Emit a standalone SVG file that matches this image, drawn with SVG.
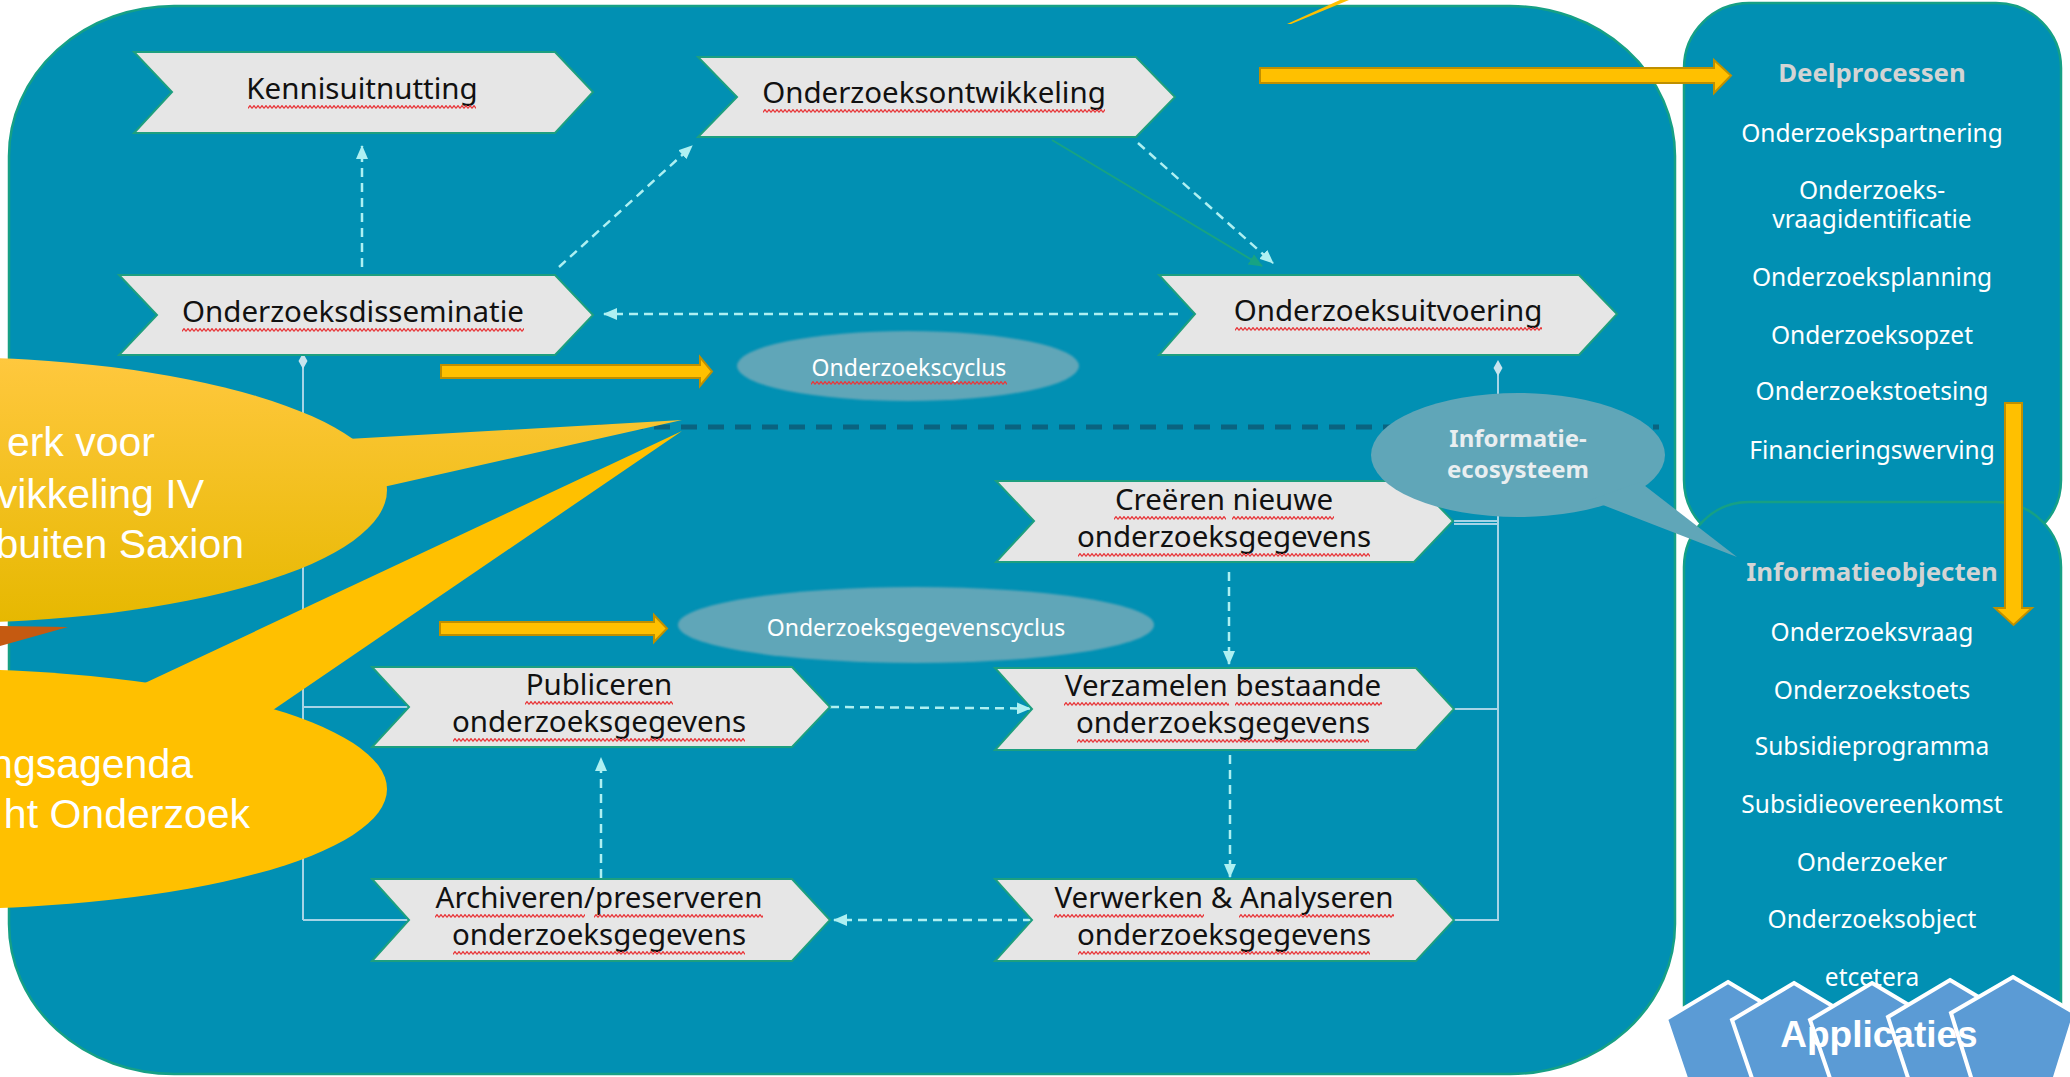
<svg xmlns="http://www.w3.org/2000/svg" width="2070" height="1077" viewBox="0 0 2070 1077">
<style>
.lbl{font-family:"Noto Sans","Open Sans",sans-serif;font-size:29.5px;fill:#111;text-anchor:middle}
.sqg{fill:url(#wave)}
.chev{fill:#e6e6e6;stroke:#1d9f7f;stroke-width:2}
.cyc{font-family:"Noto Sans","Open Sans",sans-serif;font-size:23px;fill:#fff;text-anchor:middle}
.item{font-family:"Noto Sans","Open Sans",sans-serif;font-size:24.5px;fill:#fff;text-anchor:middle}
.head{font-family:"Noto Sans","Open Sans",sans-serif;font-size:25.8px;font-weight:bold;fill:#d4d4d4;text-anchor:middle}
.big{font-family:"Liberation Sans",Arial,sans-serif;font-size:41px;fill:#fff;text-anchor:end}
.dash{fill:none;stroke:#aef0f2;stroke-width:2.5;stroke-dasharray:9 6;marker-end:url(#ah)}
.solid{fill:none;stroke:#a6d4e6;stroke-width:2}
.yarrow{fill:#ffc000;stroke:#bf8f00;stroke-width:2}
.pent{fill:#5b9bd5;stroke:#fff;stroke-width:4;stroke-linejoin:miter}
.panel{fill:#0190b3;stroke:#16a085;stroke-width:2.5}
</style>
<defs>
<pattern id="wave" patternUnits="userSpaceOnUse" width="4" height="4">
<path d="M0,3.4 L2,0.6 L4,3.4" fill="none" stroke="#e8373a" stroke-width="1.2"/>
</pattern>
<marker id="ah" viewBox="0 0 14 12" refX="13" refY="6" markerWidth="14" markerHeight="12" markerUnits="userSpaceOnUse" orient="auto">
<path d="M0,0 L14,6 L0,12 z" fill="#aef0f2"/>
</marker>
<marker id="gh" viewBox="0 0 14 12" refX="13" refY="6" markerWidth="14" markerHeight="12" markerUnits="userSpaceOnUse" orient="auto">
<path d="M0,0 L14,6 L0,12 z" fill="#17a383"/>
</marker>
<linearGradient id="yg" gradientUnits="userSpaceOnUse" x1="0" y1="358" x2="0" y2="625">
<stop offset="0" stop-color="#ffc83e"/>
<stop offset="1" stop-color="#e6b800"/>
</linearGradient>
<filter id="soft" x="-5%" y="-10%" width="110%" height="120%"><feGaussianBlur stdDeviation="1.2"/></filter>
</defs>

<rect width="2070" height="1077" fill="#fff"/>

<g id="main-area">
<rect x="9" y="6" width="1666" height="1068" rx="165" ry="150" fill="#0190b3" stroke="#16a085" stroke-width="2.5"/>
</g>

<g id="panel-deelprocessen">
<rect class="panel" x="1684" y="3" width="377" height="542" rx="65" ry="65"/>
</g>
<g id="panel-informatieobjecten">
<rect class="panel" x="1684" y="502" width="377" height="568" rx="65" ry="65"/>
</g>

<g id="panel-deelprocessen-text">
<text class="head" x="1872" y="82">Deelprocessen</text>
<text class="item" x="1872" y="141.5">Onderzoekspartnering</text>
<text class="item" x="1872" y="199">Onderzoeks-</text>
<text class="item" x="1872" y="228">vraagidentificatie</text>
<text class="item" x="1872" y="285.5">Onderzoeksplanning</text>
<text class="item" x="1872" y="343.5">Onderzoeksopzet</text>
<text class="item" x="1872" y="399.5">Onderzoekstoetsing</text>
<text class="item" x="1872" y="458.5">Financieringswerving</text>
</g>
<g id="panel-informatieobjecten-text">
<text class="head" x="1872" y="581">Informatieobjecten</text>
<text class="item" x="1872" y="640.5">Onderzoeksvraag</text>
<text class="item" x="1872" y="698.5">Onderzoekstoets</text>
<text class="item" x="1872" y="755">Subsidieprogramma</text>
<text class="item" x="1872" y="812.5">Subsidieovereenkomst</text>
<text class="item" x="1872" y="870.5">Onderzoeker</text>
<text class="item" x="1872" y="927.5">Onderzoeksobject</text>
<text class="item" x="1872" y="986">etcetera</text>
</g>

<g id="connectors">
<path class="solid" d="M303,361 V920 M303,707 H409 M303,920 H409"/>
<polygon points="303,353 307.5,361 303,369 298.5,361" fill="#c8e4ee"/>
<path class="solid" d="M1498,368 V921 M1454,521 H1498 M1454,709 H1498 M1454,920 H1498"/>
<path d="M1454,524 H1498" stroke="#a6d4e6" stroke-width="2" fill="none"/>
<polygon points="1498,360 1502.5,368 1498,376 1493.5,368" fill="#c8e4ee"/>
<path class="dash" d="M362,267 L362,146"/>
<path class="dash" d="M559,267 L692,146"/>
<path d="M1052,140 L1262,266" fill="none" stroke="#17a383" stroke-width="2" marker-end="url(#gh)"/>
<path class="dash" d="M1138,143 L1273,263"/>
<path class="dash" d="M1178,314 L604,314"/>
<path class="dash" d="M830,707 L1030,708.5"/>
<path class="dash" d="M1229,572 V664"/>
<path class="dash" d="M1230,755 V877"/>
<path class="dash" d="M1032,920 L834,920"/>
<path class="dash" d="M601,878 V758"/>
<path d="M600,427 H1659" fill="none" stroke="#0a6380" stroke-width="5" stroke-dasharray="16 11"/>
</g>

<g id="node-kennisuitnutting">
<polygon class="chev" points="134,52 555,52 593,92 555,133 134,133 172,92"/>
<text class="lbl" x="362" y="99">Kennisuitnutting</text>
<rect class="sqg" width="228" height="4" transform="translate(248,105)"/>
</g>
<g id="node-onderzoeksontwikkeling">
<polygon class="chev" points="698,57 1136,57 1175,97 1136,137 698,137 737,97"/>
<text class="lbl" x="934" y="103">Onderzoeksontwikkeling</text>
<rect class="sqg" width="342" height="4" transform="translate(763,109)"/>
</g>
<g id="node-onderzoeksdisseminatie">
<polygon class="chev" points="119,275 555,275 593,315 555,355 119,355 157,315"/>
<text class="lbl" x="353" y="322">Onderzoeksdisseminatie</text>
<rect class="sqg" width="342" height="4" transform="translate(182,328)"/>
</g>
<g id="node-onderzoeksuitvoering">
<polygon class="chev" points="1159,275 1579,275 1617,314 1579,355 1159,355 1195,314"/>
<text class="lbl" x="1388" y="321">Onderzoeksuitvoering</text>
<rect class="sqg" width="307" height="4" transform="translate(1235,327)"/>
</g>
<g id="node-creeren">
<polygon class="chev" points="996,481 1414,481 1453,521 1414,562 996,562 1034,521"/>
<text class="lbl" x="1224" y="510">Creëren nieuwe</text>
<text class="lbl" x="1224" y="547">onderzoeksgegevens</text>
<rect class="sqg" width="112" height="4" transform="translate(1114,516)"/>
<rect class="sqg" width="102" height="4" transform="translate(1232,516)"/>
<rect class="sqg" width="292" height="4" transform="translate(1078,553)"/>
</g>
<g id="node-publiceren">
<polygon class="chev" points="372,667 792,667 830,707 792,747 372,747 409,707"/>
<text class="lbl" x="599" y="695">Publiceren</text>
<text class="lbl" x="599" y="732">onderzoeksgegevens</text>
<rect class="sqg" width="148" height="4" transform="translate(525,701)"/>
<rect class="sqg" width="292" height="4" transform="translate(453,738)"/>
</g>
<g id="node-verzamelen">
<polygon class="chev" points="995,668 1416,668 1454,709 1416,750 995,750 1032,709"/>
<text class="lbl" x="1223" y="696">Verzamelen bestaande</text>
<text class="lbl" x="1223" y="733">onderzoeksgegevens</text>
<rect class="sqg" width="165" height="4" transform="translate(1064,702)"/>
<rect class="sqg" width="147" height="4" transform="translate(1235,702)"/>
<rect class="sqg" width="292" height="4" transform="translate(1077,739)"/>
</g>
<g id="node-archiveren">
<polygon class="chev" points="372,879 792,879 830,920 792,961 372,961 409,920"/>
<text class="lbl" x="599" y="908">Archiveren/preserveren</text>
<text class="lbl" x="599" y="945">onderzoeksgegevens</text>
<rect class="sqg" width="150" height="4" transform="translate(435,914)"/>
<rect class="sqg" width="169" height="4" transform="translate(594,914)"/>
<rect class="sqg" width="292" height="4" transform="translate(453,951)"/>
</g>
<g id="node-verwerken">
<polygon class="chev" points="995,879 1416,879 1454,920 1416,961 995,961 1032,920"/>
<text class="lbl" x="1224" y="908">Verwerken &amp; Analyseren</text>
<text class="lbl" x="1224" y="945">onderzoeksgegevens</text>
<rect class="sqg" width="150" height="4" transform="translate(1054,914)"/>
<rect class="sqg" width="155" height="4" transform="translate(1239,914)"/>
<rect class="sqg" width="292" height="4" transform="translate(1078,951)"/>
</g>

<g id="node-onderzoekscyclus">
<ellipse cx="908" cy="366" rx="171" ry="35" fill="#60a6b8" filter="url(#soft)"/>
<text class="cyc" x="909" y="376">Onderzoekscyclus</text>
<rect class="sqg" width="196" height="4" transform="translate(811,381)"/>
</g>
<g id="node-onderzoeksgegevenscyclus">
<ellipse cx="916" cy="625" rx="238" ry="38" fill="#60a6b8" filter="url(#soft)"/>
<text class="cyc" x="916" y="636">Onderzoeksgegevenscyclus</text>
</g>

<g id="node-informatie-ecosysteem">
<ellipse cx="1518" cy="455" rx="147" ry="62" fill="#60a6b8"/>
<polygon points="1590,500 1640,482 1737,557" fill="#60a6b8"/>
<text x="1518" y="447" font-family="Noto Sans, sans-serif" font-size="24" font-weight="bold" fill="#e9eef0" text-anchor="middle">Informatie-</text>
<text x="1518" y="478" font-family="Noto Sans, sans-serif" font-size="24" font-weight="bold" fill="#e9eef0" text-anchor="middle">ecosysteem</text>
</g>

<g id="yellow-arrows">
<polygon class="yarrow" points="441,365 700,365 700,357 712,371.5 700,386 700,378 441,378"/>
<polygon class="yarrow" points="440,622 654,622 654,615 667,628.5 654,642 654,635 440,635"/>
<polygon class="yarrow" points="1260,68 1714,68 1714,60 1731,75.5 1714,93 1714,83 1260,83"/>
<polygon class="yarrow" points="2005,403 2022,403 2022,608 2032,608 2013.5,625 1995,608 2005,608"/>
<polygon points="1287,24 1340,0 1349,0 1291,24" fill="#ffc000"/>
</g>

<g id="callout-1">
<polygon points="330,440 682,420 370,490" fill="url(#yg)"/>
<ellipse cx="-60" cy="490" rx="447" ry="133" fill="url(#yg)"/>
<text class="big" x="155" y="456">erk voor</text>
<text class="big" x="204" y="508">vikkeling IV</text>
<text class="big" x="244" y="558">buiten Saxion</text>
</g>
<g id="callout-orange">
<polygon points="0,626 68,627 0,646" fill="#c55a11"/>
<polygon points="0,697 13,714 0,709" fill="#c55a11"/>
</g>
<g id="callout-2">
<polygon points="130,690 682,431 270,712" fill="#ffc000"/>
<ellipse cx="-60" cy="789" rx="447" ry="120" fill="#ffc000"/>
<text class="big" x="193" y="778">ngsagenda</text>
<text class="big" x="250" y="828">ht Onderzoek</text>
</g>

<g id="applicaties">
<polygon class="pent" points="1728,982 1790,1019 1766,1090 1690,1090 1666,1019"/>
<polygon class="pent" points="1794,983 1856,1020 1832,1090 1756,1090 1732,1020"/>
<polygon class="pent" points="1872,983 1934,1020 1910,1090 1834,1090 1810,1020"/>
<polygon class="pent" points="1950,980 2012,1017 1988,1090 1912,1090 1888,1017"/>
<polygon class="pent" points="2013,977 2075,1013 2051,1090 1975,1090 1951,1013"/>
<text x="1879" y="1047" font-family="Liberation Sans, Arial, sans-serif" font-size="37" font-weight="bold" fill="#fff" text-anchor="middle">Applicaties</text>
</g>
</svg>
